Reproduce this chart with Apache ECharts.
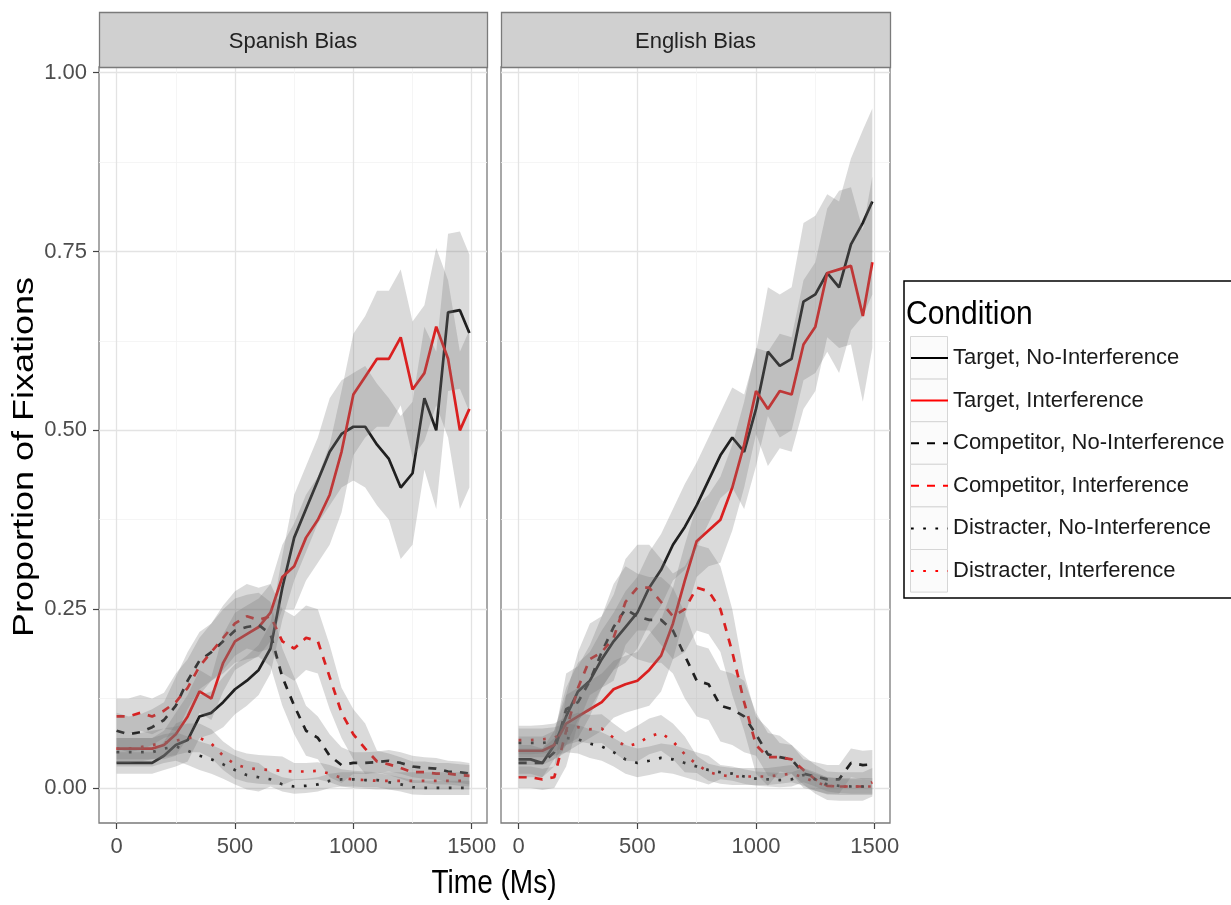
<!DOCTYPE html>
<html>
<head>
<meta charset="utf-8">
<script src="https://cdn.jsdelivr.net/npm/echarts@6/dist/echarts.min.js"></script>
<style>
  html, body { margin: 0; padding: 0; background: #fff; }
  #chart { width: 1231px; height: 905px; }
</style>
</head>
<body>
<div id="chart"></div>
<script>
// time points (ms)
var times = [0,50,100,150,200,250,300,350,400,450,500,550,600,650,700,750,800,850,900,950,1000,1050,1100,1150,1200,1250,1300,1350,1400,1450,1490];
var xTicks = [0, 500, 1000, 1500];
var xMinor = [250, 750, 1250];
var yTicks = [0, 0.25, 0.5, 0.75, 1];
var yMinor = [0.125, 0.375, 0.625, 0.875];
var panels = ['Spanish Bias', 'English Bias'];
var conditions = ['Target, No-Interference', 'Target, Interference', 'Competitor, No-Interference',
                  'Competitor, Interference', 'Distracter, No-Interference', 'Distracter, Interference'];

// Spanish Bias: mean proportion and ribbon half-width
var spTargetNI  = [0.035,0.035,0.035,0.035,0.045,0.06,0.067,0.10,0.105,0.12,0.138,0.15,0.165,0.195,0.28,0.35,0.39,0.43,0.47,0.495,0.505,0.505,0.48,0.46,0.42,0.44,0.545,0.50,0.665,0.668,0.636];
var spTargetNIW = [0.015,0.015,0.015,0.015,0.02,0.03,0.03,0.03,0.03,0.035,0.035,0.035,0.035,0.035,0.045,0.06,0.06,0.06,0.075,0.075,0.075,0.085,0.085,0.085,0.1,0.1,0.1,0.11,0.11,0.11,0.11];
var spTargetI   = [0.055,0.055,0.055,0.055,0.06,0.075,0.10,0.135,0.125,0.175,0.205,0.215,0.225,0.245,0.295,0.31,0.35,0.375,0.41,0.47,0.55,0.575,0.60,0.60,0.63,0.557,0.58,0.645,0.60,0.50,0.53];
var spTargetIW  = [0.015,0.015,0.015,0.015,0.02,0.03,0.03,0.03,0.03,0.04,0.04,0.04,0.04,0.04,0.045,0.06,0.06,0.06,0.07,0.085,0.085,0.085,0.095,0.095,0.095,0.095,0.095,0.11,0.11,0.11,0.11];
var spCompNI    = [0.08,0.075,0.078,0.085,0.095,0.115,0.15,0.178,0.19,0.205,0.22,0.225,0.228,0.215,0.155,0.115,0.08,0.07,0.045,0.032,0.035,0.035,0.036,0.038,0.035,0.03,0.028,0.027,0.023,0.022,0.02];
var spCompNIW   = [0.025,0.025,0.025,0.025,0.025,0.04,0.04,0.04,0.04,0.045,0.045,0.045,0.045,0.045,0.04,0.04,0.035,0.03,0.03,0.025,0.015,0.015,0.015,0.015,0.015,0.015,0.015,0.015,0.015,0.015,0.015];
var spCompI     = [0.10,0.10,0.105,0.10,0.108,0.12,0.14,0.17,0.19,0.21,0.23,0.24,0.235,0.24,0.205,0.195,0.21,0.205,0.155,0.105,0.075,0.055,0.037,0.033,0.028,0.022,0.022,0.02,0.02,0.018,0.017];
var spCompIW    = [0.025,0.025,0.025,0.025,0.025,0.04,0.04,0.04,0.04,0.045,0.045,0.045,0.045,0.045,0.045,0.045,0.045,0.045,0.045,0.035,0.035,0.035,0.015,0.015,0.015,0.015,0.015,0.015,0.015,0.015,0.015];
var spDistNI    = [0.05,0.05,0.05,0.05,0.055,0.058,0.052,0.045,0.04,0.033,0.025,0.018,0.015,0.012,0.005,0.002,0.003,0.005,0.01,0.012,0.012,0.011,0.011,0.008,0.005,0.001,0,0,0,0,0];
var spDistNIW   = [0.02,0.02,0.02,0.02,0.02,0.02,0.02,0.02,0.02,0.02,0.02,0.02,0.02,0.01,0.01,0.01,0.01,0.01,0.01,0.01,0.01,0.01,0.01,0.01,0.01,0.01,0.01,0.01,0.01,0.01,0.01];
var spDistI     = [0.055,0.055,0.057,0.06,0.063,0.066,0.07,0.07,0.062,0.045,0.033,0.028,0.026,0.025,0.024,0.023,0.023,0.024,0.02,0.014,0.012,0.011,0.01,0.01,0.01,0.01,0.01,0.01,0.01,0.01,0.01];
var spDistIW    = [0.02,0.02,0.02,0.02,0.02,0.02,0.02,0.02,0.02,0.02,0.02,0.02,0.02,0.02,0.02,0.012,0.012,0.012,0.012,0.012,0.012,0.012,0.012,0.012,0.012,0.012,0.012,0.012,0.012,0.012,0.012];

// English Bias
var enTargetNI  = [0.04,0.04,0.035,0.06,0.10,0.135,0.15,0.18,0.205,0.225,0.245,0.28,0.305,0.34,0.365,0.395,0.43,0.465,0.49,0.47,0.53,0.61,0.59,0.60,0.68,0.69,0.72,0.70,0.76,0.79,0.82];
var enTargetNIW = [0.02,0.02,0.02,0.02,0.04,0.04,0.04,0.04,0.04,0.05,0.05,0.05,0.05,0.05,0.06,0.06,0.06,0.06,0.07,0.08,0.08,0.09,0.1,0.1,0.11,0.11,0.11,0.12,0.12,0.13,0.13];
var enTargetI   = [0.052,0.052,0.052,0.06,0.09,0.10,0.11,0.12,0.138,0.145,0.15,0.165,0.185,0.23,0.29,0.345,0.36,0.375,0.42,0.48,0.555,0.53,0.555,0.55,0.62,0.645,0.72,0.725,0.73,0.66,0.735];
var enTargetIW  = [0.02,0.02,0.02,0.02,0.04,0.04,0.04,0.04,0.04,0.04,0.04,0.05,0.05,0.05,0.05,0.05,0.05,0.06,0.06,0.06,0.06,0.08,0.08,0.08,0.09,0.09,0.09,0.11,0.11,0.12,0.12];
var enCompNI    = [0.035,0.035,0.035,0.05,0.11,0.12,0.15,0.19,0.225,0.25,0.24,0.235,0.235,0.22,0.185,0.15,0.145,0.115,0.11,0.10,0.075,0.047,0.043,0.04,0.02,0.016,0.012,0.012,0.035,0.032,0.033];
var enCompNIW   = [0.02,0.02,0.02,0.02,0.05,0.05,0.05,0.05,0.06,0.06,0.06,0.06,0.06,0.06,0.06,0.05,0.05,0.05,0.05,0.05,0.03,0.03,0.03,0.02,0.02,0.02,0.02,0.02,0.02,0.02,0.02];
var enCompI     = [0.015,0.015,0.012,0.015,0.08,0.14,0.18,0.19,0.21,0.26,0.28,0.28,0.26,0.24,0.25,0.28,0.275,0.25,0.19,0.12,0.06,0.043,0.043,0.04,0.025,0.012,0.003,0.002,0.002,0.002,0.008];
var enCompIW    = [0.015,0.015,0.015,0.015,0.05,0.05,0.05,0.05,0.06,0.06,0.06,0.06,0.06,0.06,0.06,0.06,0.06,0.06,0.06,0.04,0.04,0.04,0.02,0.02,0.02,0.02,0.02,0.02,0.02,0.02,0.02];
var enDistNI    = [0.063,0.063,0.063,0.065,0.07,0.068,0.062,0.058,0.05,0.04,0.035,0.038,0.042,0.04,0.035,0.03,0.025,0.022,0.02,0.016,0.013,0.012,0.011,0.012,0.018,0.012,0.005,0.003,0.002,0.002,0.002];
var enDistNIW   = [0.02,0.02,0.02,0.02,0.02,0.02,0.02,0.02,0.02,0.02,0.02,0.02,0.02,0.02,0.02,0.02,0.02,0.01,0.01,0.01,0.01,0.01,0.01,0.01,0.01,0.01,0.01,0.01,0.01,0.01,0.01];
var enDistI     = [0.067,0.067,0.068,0.07,0.08,0.085,0.082,0.083,0.07,0.058,0.062,0.072,0.077,0.065,0.047,0.033,0.022,0.018,0.016,0.016,0.016,0.016,0.018,0.02,0.015,0.008,0.003,0.002,0.002,0.002,0.002];
var enDistIW    = [0.02,0.02,0.02,0.02,0.02,0.02,0.02,0.02,0.02,0.02,0.025,0.025,0.025,0.025,0.025,0.012,0.012,0.012,0.012,0.012,0.012,0.012,0.012,0.012,0.012,0.012,0.012,0.012,0.012,0.012,0.012];

var FONT = '"Liberation Sans", Arial, sans-serif';
var colors = ['#000000', '#ff0000', '#000000', '#ff0000', '#000000', '#ff0000'];
var dashes = ['solid', 'solid', [8, 8], [8, 8], [2.7, 9.5], [2.7, 9.5]];
var RIBBON = 'rgba(120,120,120,0.27)';

var panelData = [
    [[spTargetNI, spTargetNIW], [spTargetI, spTargetIW], [spCompNI, spCompNIW],
     [spCompI, spCompIW], [spDistNI, spDistNIW], [spDistI, spDistIW]],
    [[enTargetNI, enTargetNIW], [enTargetI, enTargetIW], [enCompNI, enCompNIW],
     [enCompI, enCompIW], [enDistNI, enDistNIW], [enDistI, enDistIW]]
];

// panel rectangles (facets)
var grids = [
    {left: 99, top: 67, width: 388, height: 756},
    {left: 501, top: 67, width: 389, height: 756}
];

// confidence ribbon as one polygon, placed through the axes
function ribbonSeries(gi, vals, wid) {
    var pts = times.map(function (t, i) { return [t, vals[i] - wid[i], vals[i] + wid[i]]; });
    return {
        type: 'custom', xAxisIndex: gi * 2, yAxisIndex: gi * 2, silent: true, z: 3, animation: false,
        data: pts, encode: {x: 0, y: [1, 2]},
        renderItem: function (params, api) {
            if (params.dataIndex !== 0) return null;
            var lower = pts.map(function (p) { return api.coord([p[0], p[1]]); });
            var upper = pts.map(function (p) { return api.coord([p[0], p[2]]); }).reverse();
            return {type: 'polygon', shape: {points: lower.concat(upper)}, style: {fill: RIBBON}};
        }
    };
}

var series = [];
var xAxes = [];
var yAxes = [];
var gridOpts = [];

grids.forEach(function (g, gi) {
    gridOpts.push({
        left: g.left, top: g.top, width: g.width, height: g.height,
        show: true, backgroundColor: '#fff', borderColor: '#7a7a7a', borderWidth: 1.3
    });
    // main x axis
    xAxes.push({
        type: 'value', gridIndex: gi, position: 'bottom', min: -74.5, max: 1564.5,
        axisLine: {show: false, onZero: false},
        axisTick: {show: true, length: 6, customValues: xTicks, lineStyle: {color: '#444', width: 1.2}},
        axisLabel: {customValues: xTicks, fontSize: 22, color: '#4d4d4d', margin: 13, fontFamily: FONT,
                    formatter: function (v) { return String(v); }},
        splitLine: {show: true, lineStyle: {color: '#e3e3e3', width: 1.3}}
    });
    // minor x grid
    xAxes.push({
        type: 'value', gridIndex: gi, position: 'top', min: -74.5, max: 1564.5,
        axisLine: {show: false, onZero: false}, axisLabel: {show: false},
        axisTick: {show: false, customValues: xMinor},
        splitLine: {show: true, lineStyle: {color: '#f3f3f3', width: 0.8}}
    });
    yAxes.push({
        type: 'value', gridIndex: gi, position: 'left', min: -0.049, max: 1.008,
        axisLine: {show: false, onZero: false},
        axisTick: {show: gi === 0, length: 6, customValues: yTicks, lineStyle: {color: '#444', width: 1.2}},
        axisLabel: {show: gi === 0, customValues: yTicks, fontSize: 22, color: '#4d4d4d', margin: 12, fontFamily: FONT,
                    formatter: function (v) { return v.toFixed(2); }},
        splitLine: {show: true, lineStyle: {color: '#e3e3e3', width: 1.3}}
    });
    yAxes.push({
        type: 'value', gridIndex: gi, position: 'right', min: -0.049, max: 1.008,
        axisLine: {show: false, onZero: false}, axisLabel: {show: false},
        axisTick: {show: false, customValues: yMinor},
        splitLine: {show: true, lineStyle: {color: '#f3f3f3', width: 0.8}}
    });

    panelData[gi].forEach(function (pair, ci) {
        var vals = pair[0], wid = pair[1];
        series.push({
            name: conditions[ci], type: 'line', xAxisIndex: gi * 2, yAxisIndex: gi * 2,
            data: times.map(function (t, i) { return [t, vals[i]]; }),
            symbol: 'none', z: 2, animation: false,
            lineStyle: {color: colors[ci], width: 2.7, type: dashes[ci], cap: 'butt'},
            itemStyle: {color: colors[ci]}
        });
        series.push(ribbonSeries(gi, vals, wid));
    });
});

var graphics = [];
// facet strips
grids.forEach(function (g, gi) {
    graphics.push({
        type: 'rect', z: 10,
        shape: {x: g.left + 0.5, y: 12.5, width: g.width, height: 55},
        style: {fill: '#d0d0d0', stroke: '#7a7a7a', lineWidth: 1.3}
    });
    graphics.push({
        type: 'text', z: 11, x: g.left + g.width / 2, y: 42,
        style: {text: panels[gi], fill: '#222', font: '22px ' + FONT, textAlign: 'center', textVerticalAlign: 'middle'}
    });
});
// axis titles
graphics.push({
    type: 'text', z: 11, x: 25, y: 457, rotation: Math.PI / 2, scaleX: 1.2,
    style: {text: 'Proportion of Fixations', fill: '#000', font: '30px ' + FONT, textAlign: 'center', textVerticalAlign: 'middle'}
});
graphics.push({
    type: 'text', z: 11, x: 494, y: 884, scaleY: 1.2,
    style: {text: 'Time (Ms)', fill: '#000', font: '28px ' + FONT, textAlign: 'center', textVerticalAlign: 'middle'}
});
// legend frame, title and key boxes
graphics.push({
    type: 'rect', z: 0,
    shape: {x: 904, y: 281, width: 340, height: 317},
    style: {fill: '#fff', stroke: '#000', lineWidth: 1.5}
});
graphics.push({
    type: 'text', z: 11, x: 906, y: 315, scaleY: 1.08,
    style: {text: 'Condition', fill: '#000', font: '30px ' + FONT, textAlign: 'left', textVerticalAlign: 'middle'}
});
for (var k = 0; k < conditions.length; k++) {
    graphics.push({
        type: 'rect', z: 1,
        shape: {x: 910.5, y: 336.5 + k * 42.6, width: 37, height: 42.6},
        style: {fill: '#fbfbfb', stroke: '#d6d6d6', lineWidth: 1}
    });
}

var chart = echarts.init(document.getElementById('chart'), null, {renderer: 'canvas'});
chart.setOption({
    animation: false,
    backgroundColor: '#fff',
    grid: gridOpts,
    xAxis: xAxes,
    yAxis: yAxes,
    legend: {
        data: conditions, orient: 'vertical', left: 910, top: 347,
        itemWidth: 37, itemHeight: 22, itemGap: 20.6, padding: 0,
        selectedMode: false,
        itemStyle: {opacity: 0},
        textStyle: {fontSize: 22, color: '#1a1a1a', fontFamily: FONT}
    },
    graphic: graphics,
    series: series
});
</script>
</body>
</html>
